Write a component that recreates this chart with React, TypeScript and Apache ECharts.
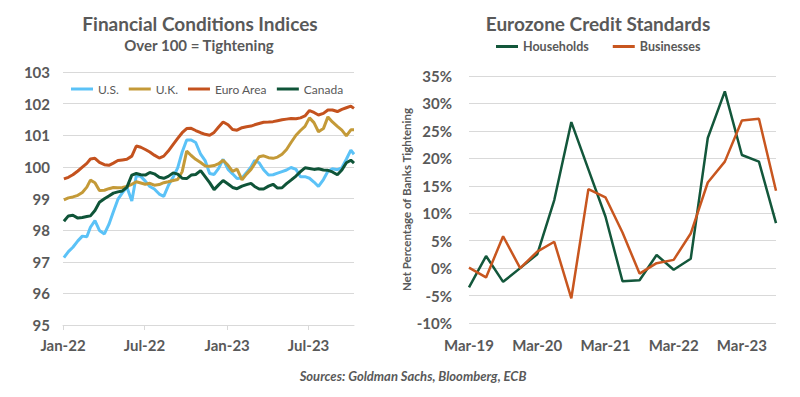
import React, { useEffect, useRef } from "react";
import * as echarts from "echarts";

// ---- Left chart: Financial Conditions Indices ----
const fciDates = [
  "2022-01-03","2022-01-13","2022-01-23","2022-02-03","2022-02-13","2022-02-23","2022-03-03","2022-03-13","2022-03-23","2022-04-03",
  "2022-04-13","2022-04-23","2022-05-03","2022-05-13","2022-05-23","2022-06-03","2022-06-13","2022-06-23","2022-07-03","2022-07-13",
  "2022-07-23","2022-08-03","2022-08-13","2022-08-23","2022-09-03","2022-09-13","2022-09-23","2022-10-03","2022-10-13","2022-10-23",
  "2022-11-03","2022-11-13","2022-11-23","2022-12-03","2022-12-13","2022-12-23","2023-01-03","2023-01-13","2023-01-23","2023-02-03",
  "2023-02-13","2023-02-23","2023-03-03","2023-03-13","2023-03-23","2023-04-03","2023-04-13","2023-04-23","2023-05-03","2023-05-13",
  "2023-05-23","2023-06-03","2023-06-13","2023-06-23","2023-07-03","2023-07-13","2023-07-23","2023-08-03","2023-08-13","2023-08-23",
  "2023-09-03","2023-09-13","2023-09-23","2023-10-03","2023-10-10",
];
const usValues = [
  97.13, 97.32, 97.46, 97.66, 97.81, 97.79, 98.09, 98.3, 97.99, 97.88,
  98.18, 98.58, 98.97, 99.18, 99.36, 98.92, 99.72, 99.7, 99.55, 99.38,
  99.3, 99.14, 99.07, 99.4, 99.68, 99.97, 100.47, 100.85, 100.85, 100.77,
  100.4, 100.2, 99.79, 99.76, 99.95, 100.24, 99.92, 99.78, 99.63, 99.65,
  99.82, 100.0, 100.2, 100.13, 99.91, 99.74, 99.75, 99.8, 99.85, 99.9,
  99.98, 99.92, 99.69, 99.69, 99.64, 99.52, 99.38, 99.6, 99.86, 99.94,
  99.91, 99.97, 100.24, 100.53, 100.4,
];
const ukValues = [
  98.96, 99.02, 99.05, 99.1, 99.19, 99.36, 99.58, 99.5, 99.25, 99.26,
  99.31, 99.35, 99.34, 99.35, 99.38, 99.45, 99.53, 99.49, 99.45, 99.48,
  99.42, 99.44, 99.5, 99.53, 99.57, 99.6, 99.85, 100.5, 100.36, 100.24,
  100.14, 100.03, 100.02, 100.04, 100.1, 100.21, 100.05, 99.86, 99.93, 99.59,
  99.77, 99.92, 100.09, 100.32, 100.35, 100.29, 100.27, 100.31, 100.4, 100.55,
  100.77, 101.0, 101.15, 101.28, 101.55, 101.4, 101.11, 101.21, 101.58, 101.42,
  101.28, 101.16, 100.98, 101.17, 101.17,
];
const euroValues = [
  99.62, 99.67, 99.75, 99.87, 99.99, 100.11, 100.25, 100.27, 100.14, 100.07,
  100.05, 100.12, 100.2, 100.22, 100.24, 100.34, 100.66, 100.62, 100.55, 100.47,
  100.37, 100.28, 100.34, 100.5, 100.71, 100.9, 101.08, 101.21, 101.22, 101.15,
  101.08, 101.03, 101.0, 101.09, 101.26, 101.42, 101.33, 101.18, 101.16, 101.24,
  101.27, 101.29, 101.33, 101.37, 101.41, 101.42, 101.43, 101.46, 101.49, 101.51,
  101.53, 101.52, 101.55, 101.61, 101.78, 101.72, 101.64, 101.69, 101.8, 101.8,
  101.75, 101.82, 101.87, 101.92, 101.85,
];
const canadaValues = [
  98.28, 98.45, 98.47, 98.38, 98.4, 98.43, 98.45, 98.62, 98.88, 98.99,
  99.08, 99.17, 99.21, 99.24, 99.35, 99.74, 99.79, 99.75, 99.74, 99.82,
  99.78, 99.67, 99.64, 99.7, 99.81, 99.77, 99.64, 99.63, 99.74, 99.76,
  99.88, 99.69, 99.5, 99.28, 99.43, 99.57, 99.46, 99.35, 99.31, 99.39,
  99.44, 99.48, 99.38, 99.3, 99.3, 99.39, 99.45, 99.33, 99.34, 99.47,
  99.58, 99.71, 99.85, 99.97, 99.95, 99.92, 99.94, 99.9, 99.89, 99.84,
  99.75, 99.9, 100.13, 100.21, 100.12,
];
const fciTickDates = ["2022-01-01", "2022-07-01", "2023-01-01", "2023-07-01"];
const fciTickLabels = ["Jan-22", "Jul-22", "Jan-23", "Jul-23"];
const fciRange = ["2022-01-01", "2023-10-10"];

// ---- Right chart: Eurozone Credit Standards ----
const quarters = [
  "Mar-19","Jun-19","Sep-19","Dec-19","Mar-20","Jun-20","Sep-20","Dec-20","Mar-21","Jun-21",
  "Sep-21","Dec-21","Mar-22","Jun-22","Sep-22","Dec-22","Mar-23","Jun-23","Sep-23",
];
const households = [-3.5, 2.2, -2.5, 0.0, 2.5, 12.4, 26.6, 18.0, 9.4, -2.4, -2.2, 2.4, -0.3, 1.7, 23.7, 32.2, 20.6, 19.4, 8.2];
const businesses = [0.1, -1.7, 5.8, 0.0, 3.0, 4.8, -5.5, 14.4, 12.9, 6.5, -1.0, 0.9, 1.5, 6.3, 15.6, 19.4, 26.9, 27.2, 14.1];

const ts = (s: string) => {
  const [y, m, d] = s.split("-").map(Number);
  return Date.UTC(y, m - 1, d);
};

const FONT = "Lato";
const GREY = "#595959";
const GRID = "#D9D9D9";
const C_US = "#5BC2F7";
const C_UK = "#C49A38";
const C_EU = "#C4521E";
const C_CA = "#0F5438";

export default function App() {
  const ref = useRef<HTMLDivElement>(null);
  useEffect(() => {
    document.body.style.margin = "0";
    const chart = echarts.init(ref.current!, null, { renderer: "svg" });
    const tickTs = fciTickDates.map(ts);
    const labelFor = (v: number) => {
      const i = tickTs.indexOf(v);
      return i >= 0 ? fciTickLabels[i] : "";
    };
    const pairs = (vals: number[]) => vals.map((v, i) => [ts(fciDates[i]), v]);
    const lineSeries = (name: string, data: any, color: string, width: number, idx: number) => ({
      name,
      type: "line",
      data,
      xAxisIndex: idx,
      yAxisIndex: idx,
      symbol: "none",
      showSymbol: false,
      color,
      lineStyle: { color, width },
    });
    chart.setOption({
      animation: false,
      textStyle: { fontFamily: FONT },
      graphic: [
        { type: "text", x: 200, y: 23, style: { text: "Financial Conditions Indices", fill: GREY, fontFamily: FONT, fontSize: 19, fontWeight: "bold", align: "center", verticalAlign: "middle" } },
        { type: "text", x: 199, y: 45, style: { text: "Over 100 = Tightening", fill: GREY, fontFamily: FONT, fontSize: 15, fontWeight: "bold", align: "center", verticalAlign: "middle" } },
        { type: "text", x: 598, y: 23, style: { text: "Eurozone Credit Standards", fill: GREY, fontFamily: FONT, fontSize: 19, fontWeight: "bold", align: "center", verticalAlign: "middle" } },
        { type: "text", x: 413, y: 376, style: { text: "Sources: Goldman Sachs, Bloomberg, ECB", fill: GREY, fontFamily: FONT, fontSize: 13, fontWeight: "bold", fontStyle: "italic", align: "center", verticalAlign: "middle" } },
      ],
      legend: [
        {
          data: ["U.S.", "U.K.", "Euro Area", "Canada"],
          left: 71, top: 83, icon: "rect", itemWidth: 22, itemHeight: 3, itemGap: 10, padding: 0,
          textStyle: { color: GREY, fontSize: 12, fontFamily: FONT },
        },
        {
          data: ["Households", "Businesses"],
          left: 496, top: 40, icon: "rect", itemWidth: 22, itemHeight: 3, itemGap: 24, padding: 0,
          textStyle: { color: GREY, fontSize: 12.5, fontWeight: "bold", fontFamily: FONT },
        },
      ],
      grid: [
        { left: 63, right: 446, top: 72, bottom: 72 },
        { left: 469, right: 24, top: 76, bottom: 74 },
      ],
      xAxis: [
        {
          type: "value", gridIndex: 0, min: ts(fciRange[0]), max: ts(fciRange[1]),
          axisLine: { show: true, lineStyle: { color: GRID, width: 1 } },
          axisTick: { show: true, customValues: tickTs, length: 5, lineStyle: { color: GRID } },
          axisLabel: { customValues: tickTs, formatter: (v: number) => labelFor(v), color: GREY, fontSize: 15, fontWeight: "bold", fontFamily: FONT, margin: 12 },
          splitLine: { show: false },
        },
        {
          type: "category", gridIndex: 1, data: quarters, boundaryGap: false,
          axisLine: { show: false }, axisTick: { show: false },
          axisLabel: { interval: 3, color: GREY, fontSize: 15, fontWeight: "bold", fontFamily: FONT, margin: 14 },
          splitLine: { show: false },
        },
      ],
      yAxis: [
        {
          type: "value", gridIndex: 0, min: 95, max: 103, interval: 1,
          axisLine: { show: false }, axisTick: { show: false },
          axisLabel: { color: GREY, fontSize: 15, fontWeight: "bold", fontFamily: FONT, margin: 13 },
          splitLine: { lineStyle: { color: GRID, width: 1 } },
        },
        {
          type: "value", gridIndex: 1, min: -10, max: 35, interval: 5,
          name: "Net Percentage of Banks Tightening", nameLocation: "middle", nameRotate: 90, nameGap: 52,
          nameTextStyle: { color: GREY, fontSize: 11.5, fontWeight: "bold", fontFamily: FONT },
          axisLine: { show: false }, axisTick: { show: false },
          axisLabel: { formatter: "{value}%", color: GREY, fontSize: 15, fontWeight: "bold", fontFamily: FONT, margin: 17 },
          splitLine: { lineStyle: { color: GRID, width: 1 } },
        },
      ],
      series: [
        lineSeries("U.S.", pairs(usValues), C_US, 3, 0),
        lineSeries("U.K.", pairs(ukValues), C_UK, 3, 0),
        lineSeries("Euro Area", pairs(euroValues), C_EU, 3, 0),
        lineSeries("Canada", pairs(canadaValues), C_CA, 3, 0),
        lineSeries("Households", households, "#13573B", 2.5, 1),
        lineSeries("Businesses", businesses, "#C8561F", 2.5, 1),
      ],
    });
    return () => chart.dispose();
  }, []);
  return <div ref={ref} style={{ width: 800, height: 397 }} />;
}
